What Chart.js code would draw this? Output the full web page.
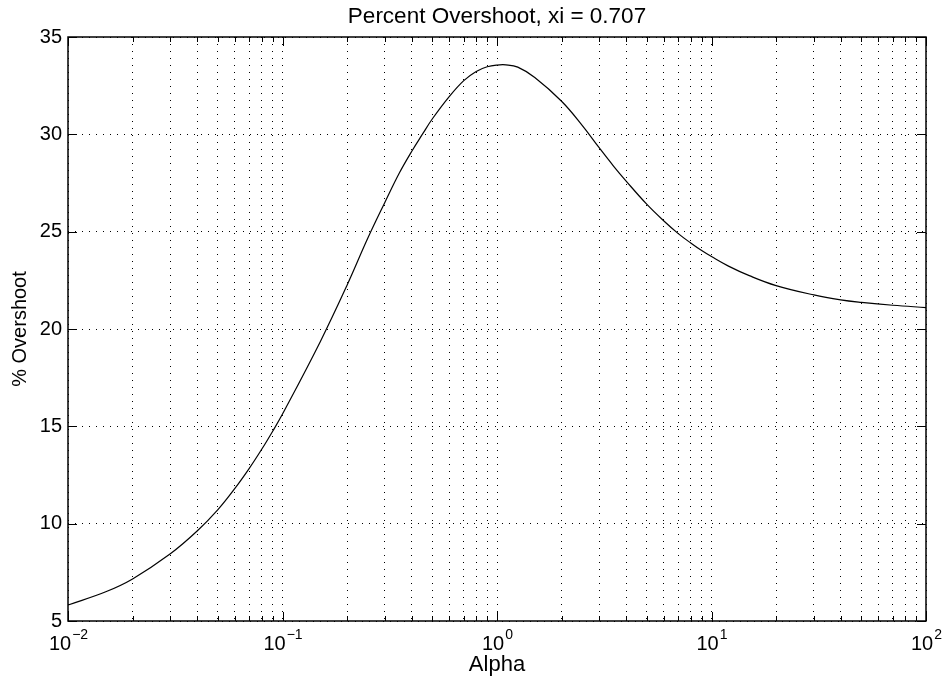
<!DOCTYPE html>
<html>
<head>
    <title>Percent Overshoot</title>
    <script src="https://cdn.jsdelivr.net/npm/chart.js"></script>
    <style>
        body {
            margin: 0;
            background-color: #ffffff;
        }
        #wrap {
            width: 944px;
            height: 678px;
        }
    </style>
</head>
<body>
    <div id="wrap"><canvas id="chart" width="944" height="678"></canvas></div>
    <script>
        // values
        var alpha = [0.01, 0.015, 0.02, 0.03, 0.04, 0.05, 0.06, 0.07, 0.08, 0.09,
                     0.1, 0.15, 0.2, 0.25, 0.3, 0.35, 0.4, 0.45, 0.5, 0.6, 0.7, 0.8, 0.9,
                     1, 1.1, 1.25, 1.5, 2, 2.5, 3, 3.5, 4, 5, 6, 7, 8, 9,
                     10, 12, 15, 20, 30, 40, 50, 70, 100];
        var overshoot = [5.82, 6.5, 7.16, 8.45, 9.62, 10.72, 11.81, 12.84, 13.82, 14.75,
                         15.63, 19.35, 22.25, 24.67, 26.5, 28.0, 29.12, 30.02, 30.8, 31.95, 32.76, 33.23, 33.47,
                         33.56, 33.57, 33.45, 32.92, 31.7, 30.45, 29.3, 28.36, 27.6, 26.4, 25.55, 24.9, 24.42, 24.03,
                         23.72, 23.23, 22.74, 22.23, 21.75, 21.5, 21.37, 21.22, 21.1];
        var xTickExp = [-2, -1, 0, 1, 2];
        var yTicks = [5, 10, 15, 20, 25, 30, 35];

        var fontFamily = "'Liberation Sans', Arial, Helvetica, sans-serif";
        Chart.defaults.font.family = fontFamily;
        Chart.defaults.color = '#000';

        // log grid: 1..9 in every decade
        var xGridValues = [];
        for (var e = xTickExp[0]; e < xTickExp[xTickExp.length - 1]; e++) {
            for (var m = 1; m < 10; m++) {
                xGridValues.push(m * Math.pow(10, e));
            }
        }
        xGridValues.push(Math.pow(10, xTickExp[xTickExp.length - 1]));

        var points = alpha.map(function(a, i) { return {x: a, y: overshoot[i]}; });

        // box, inward ticks and superscript labels, like the matlab figure
        var matlabAxes = {
            id: 'matlabAxes',
            afterDraw: function(chart) {
                var ctx = chart.ctx;
                var area = chart.chartArea;
                var xs = chart.scales.x;
                var ys = chart.scales.y;
                ctx.save();
                ctx.strokeStyle = '#000';
                ctx.lineWidth = 1.5;
                ctx.strokeRect(area.left, area.top, area.right - area.left, area.bottom - area.top);

                ctx.lineWidth = 1;
                ctx.beginPath();
                xGridValues.forEach(function(v) {
                    var px = Math.round(xs.getPixelForValue(v)) + 0.5;
                    var major = Math.abs(Math.log10(v) - Math.round(Math.log10(v))) < 1e-9;
                    var len = major ? 9 : 5;
                    ctx.moveTo(px, area.bottom);
                    ctx.lineTo(px, area.bottom - len);
                    ctx.moveTo(px, area.top);
                    ctx.lineTo(px, area.top + len);
                });
                yTicks.forEach(function(v) {
                    var py = Math.round(ys.getPixelForValue(v)) + 0.5;
                    ctx.moveTo(area.left, py);
                    ctx.lineTo(area.left + 9, py);
                    ctx.moveTo(area.right, py);
                    ctx.lineTo(area.right - 9, py);
                });
                ctx.stroke();

                // x tick labels 10^n
                ctx.fillStyle = '#000';
                ctx.textBaseline = 'alphabetic';
                ctx.textAlign = 'left';
                xTickExp.forEach(function(p) {
                    var px = xs.getPixelForValue(Math.pow(10, p));
                    var sup = p < 0 ? '\u2212' + (-p) : String(p);
                    ctx.font = '20px ' + fontFamily;
                    var wBase = ctx.measureText('10').width;
                    ctx.font = '14px ' + fontFamily;
                    var wSup = ctx.measureText(sup).width;
                    var x0 = px - (wBase + wSup) / 2;
                    ctx.font = '20px ' + fontFamily;
                    ctx.fillText('10', x0, 650);
                    ctx.font = '14px ' + fontFamily;
                    ctx.fillText(sup, x0 + wBase + 1, 639);
                });
                ctx.restore();
            }
        };

        new Chart(document.getElementById('chart').getContext('2d'), {
            type: 'scatter',
            data: {
                datasets: [{
                    data: points,
                    showLine: true,
                    borderColor: '#000',
                    borderWidth: 1.2,
                    pointRadius: 0,
                    tension: 0.4,
                    fill: false
                }]
            },
            options: {
                responsive: false,
                animation: false,
                layout: {
                    padding: {left: 0, right: 18, top: 0, bottom: 0}
                },
                plugins: {
                    legend: { display: false },
                    tooltip: { enabled: false },
                    title: {
                        display: true,
                        fullSize: false,
                        text: 'Percent Overshoot, xi = 0.707',
                        color: '#000',
                        font: { size: 22.5, weight: 'normal' },
                        padding: { top: 3, bottom: 7 }
                    }
                },
                scales: {
                    x: {
                        type: 'logarithmic',
                        min: 0.01,
                        max: 100,
                        afterBuildTicks: function(scale) {
                            scale.ticks = xGridValues.map(function(v) { return {value: v}; });
                        },
                        afterFit: function(scale) { scale.height = 57; },
                        ticks: { display: false },
                        grid: {
                            color: '#000',
                            lineWidth: 1,
                            drawTicks: false
                        },
                        border: { display: false, dash: [1, 6] },
                        title: {
                            display: true,
                            text: 'Alpha',
                            color: '#000',
                            font: { size: 22 },
                            padding: { top: 0, bottom: 0 }
                        }
                    },
                    y: {
                        min: 5,
                        max: 35,
                        afterBuildTicks: function(scale) {
                            scale.ticks = yTicks.map(function(v) { return {value: v}; });
                        },
                        afterFit: function(scale) { scale.width = 68; },
                        ticks: {
                            color: '#000',
                            font: { size: 20 },
                            padding: 6
                        },
                        grid: {
                            color: '#000',
                            lineWidth: 1,
                            drawTicks: false
                        },
                        border: { display: false, dash: [1, 6] },
                        title: {
                            display: true,
                            text: '% Overshoot',
                            color: '#000',
                            font: { size: 20 },
                            padding: { top: 8, bottom: 0 }
                        }
                    }
                }
            },
            plugins: [matlabAxes]
        });
    </script>
</body>
</html>
